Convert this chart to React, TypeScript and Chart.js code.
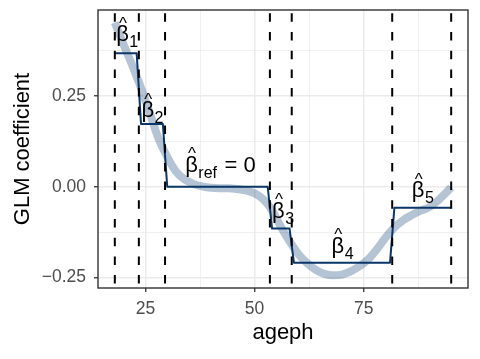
import React, { useEffect, useRef } from 'react';
import { Chart, registerables } from 'chart.js';

Chart.register(...registerables);

const FONT = "'Liberation Sans', Arial, Helvetica, sans-serif";

// bin breaks on ageph (dashed lines)
const breaks = [18, 23.5, 29.5, 53.5, 58.5, 81.5, 95];
// GLM coefficient per bin
const binCoefs = [0.368, 0.173, 0, -0.115, -0.209, -0.0575];

// smooth effect (thick light curve)
const smoothAge = [18, 20, 22, 24, 26, 28, 30, 32, 34, 36, 38, 40, 42, 44, 46, 48, 50, 52, 54, 56, 58, 60, 62, 64, 66, 68, 70, 72, 74, 76, 78, 80, 82, 84, 86, 88, 90, 92, 94, 95];
const smoothEffect = [0.452, 0.392, 0.334, 0.272, 0.203, 0.133, 0.082, 0.042, 0.02, 0.008, 0.001, -0.003, -0.004, -0.004, -0.006, -0.01, -0.018, -0.035, -0.065, -0.11, -0.15, -0.185, -0.21, -0.229, -0.24, -0.244, -0.242, -0.233, -0.219, -0.2, -0.172, -0.14, -0.112, -0.092, -0.078, -0.066, -0.056, -0.038, -0.014, -0.002];

// annotation labels (beta-hat)
const labelSubs = ['1', '2', 'ref', '3', '4', '5'];
const labelTails = ['', '', ' = 0', '', '', ''];
const labelAge = [18.3, 24.1, 34.1, 54.0, 67.6, 86.0];
const labelCoef = [0.401, 0.192, 0.041, -0.085, -0.182, -0.029];

// axis ticks
const xMajorTicks = [25, 50, 75];
const yMajorTicks = [-0.25, 0, 0.25];

const withMinor = (major: number[]) => {
  const step = major[1] - major[0];
  const out: number[] = [];
  for (let i = -1; i <= major.length; i++) {
    const v = major[0] + i * step;
    out.push(v - step / 2, v);
  }
  out.push(major[major.length - 1] + step * 1.5);
  return out;
};

const isMajor = (v: number, majors: number[]) => majors.some((m) => Math.abs(m - v) < 1e-9);

const fmtY = (v: number) => {
  if (Math.abs(v) < 1e-9) return '0.00';
  return v < 0 ? '\u2212' + Math.abs(v).toFixed(2) : v.toFixed(2);
};

// step points: evaluate each bin at integer ages
const stepPoints: { x: number; y: number }[] = [];
binCoefs.forEach((c, i) => {
  const a0 = Math.ceil(breaks[i]);
  const a1 = i === binCoefs.length - 1 ? breaks[i + 1] : Math.floor(breaks[i + 1]);
  stepPoints.push({ x: a0, y: c }, { x: a1, y: c });
});
const smoothPoints = smoothAge.map((a, i) => ({ x: a, y: smoothEffect[i] }));

const xLo = breaks[0];
const xHi = breaks[breaks.length - 1];
const xPad = (xHi - xLo) * 0.05;
const allY = [...smoothEffect, ...binCoefs];
const yLo = Math.min(...allY);
const yHi = Math.max(...allY);
const yPad = (yHi - yLo) * 0.05;

const zeroPad = (s: any) => {
  s.paddingLeft = 0;
  s.paddingRight = 0;
  s.paddingTop = 0;
  s.paddingBottom = 0;
};

const overlayPlugin = {
  id: 'overlay',
  afterDatasetsDraw(chart: any) {
    const { ctx, chartArea } = chart;
    const xs = chart.scales.x;
    const ys = chart.scales.y;
    ctx.save();
    // dashed vertical lines
    ctx.strokeStyle = '#000000';
    ctx.lineWidth = 2;
    ctx.setLineDash([8.5, 10.2]);
    ctx.lineDashOffset = 15.4;
    breaks.forEach((b) => {
      const px = xs.getPixelForValue(b);
      ctx.beginPath();
      ctx.moveTo(px, chartArea.top);
      ctx.lineTo(px, chartArea.bottom);
      ctx.stroke();
    });
    ctx.setLineDash([]);
    // labels
    ctx.fillStyle = '#000000';
    labelSubs.forEach((sub, i) => {
      const px = xs.getPixelForValue(labelAge[i]);
      const py = ys.getPixelForValue(labelCoef[i]);
      ctx.textBaseline = 'alphabetic';
      ctx.textAlign = 'left';
      ctx.font = `22px ${FONT}`;
      ctx.fillText('\u03B2', px, py);
      const bw = ctx.measureText('\u03B2').width;
      ctx.font = `17px ${FONT}`;
      ctx.textAlign = 'center';
      ctx.fillText('^', px + bw / 2 + 0.5, py - 12.5);
      ctx.textAlign = 'left';
      ctx.font = `16px ${FONT}`;
      ctx.fillText(sub, px + bw + 0.5, py + 6);
      const sw = ctx.measureText(sub).width;
      if (labelTails[i]) {
        ctx.font = `22px ${FONT}`;
        ctx.fillText(labelTails[i], px + bw + sw + 2, py);
      }
    });
    // panel border
    ctx.strokeStyle = '#333333';
    ctx.lineWidth = 1.4;
    ctx.strokeRect(chartArea.left, chartArea.top, chartArea.right - chartArea.left, chartArea.bottom - chartArea.top);
    ctx.restore();
  },
};

export default function App() {
  const ref = useRef<HTMLCanvasElement>(null);
  useEffect(() => {
    const canvas = ref.current;
    if (!canvas) return;
    const xTicks = withMinor(xMajorTicks);
    const yTicks = withMinor(yMajorTicks);
    const chart = new Chart(canvas, {
      type: 'line',
      data: {
        datasets: [
          {
            label: 'bins',
            data: stepPoints,
            borderColor: '#0A3668',
            borderWidth: 2,
            pointRadius: 0,
            tension: 0,
            borderJoinStyle: 'round',
            order: 0,
          },
          {
            label: 'smooth',
            data: smoothPoints,
            borderColor: 'rgba(12,64,121,0.31)',
            borderWidth: 8,
            pointRadius: 0,
            cubicInterpolationMode: 'monotone',
            order: 1,
          },
        ],
      },
      options: {
        animation: false,
        responsive: false,
        devicePixelRatio: 1,
        events: [],
        layout: { padding: { left: 0, right: 12, top: 10, bottom: 0 } },
        plugins: { legend: { display: false }, tooltip: { enabled: false } },
        scales: {
          x: {
            type: 'linear',
            position: 'bottom',
            min: xLo - xPad,
            max: xHi + xPad,
            afterBuildTicks: (s: any) => {
              s.ticks = xTicks.filter((v) => v >= s.min && v <= s.max).map((v) => ({ value: v }));
            },
            afterFit: (s: any) => {
              s.height = 71;
              zeroPad(s);
            },
            ticks: {
              autoSkip: false,
              maxRotation: 0,
              minRotation: 0,
              padding: 6.5,
              color: '#4D4D4D',
              font: { family: FONT, size: 17.5 },
              callback: (v: any) => (isMajor(Number(v), xMajorTicks) ? String(v) : ''),
            },
            grid: {
              color: '#EBEBEB',
              lineWidth: (c: any) => (c.tick && isMajor(c.tick.value, xMajorTicks) ? 1.5 : 0.75),
              tickLength: 4,
              tickWidth: 1.3,
              tickColor: (c: any) => (c.tick && isMajor(c.tick.value, xMajorTicks) ? '#333333' : 'rgba(0,0,0,0)'),
            },
            border: { display: false },
            title: {
              display: true,
              text: 'ageph',
              color: '#000000',
              font: { family: FONT, size: 22 },
              padding: { top: 0, bottom: 12.5 },
            },
          },
          y: {
            type: 'linear',
            min: yLo - yPad,
            max: yHi + yPad,
            afterBuildTicks: (s: any) => {
              s.ticks = yTicks.filter((v) => v >= s.min && v <= s.max).map((v) => ({ value: v }));
            },
            afterFit: (s: any) => {
              s.width = 98;
              zeroPad(s);
            },
            ticks: {
              autoSkip: false,
              padding: 8,
              color: '#4D4D4D',
              font: { family: FONT, size: 17.5 },
              callback: (v: any) => (isMajor(Number(v), yMajorTicks) ? fmtY(Number(v)) : ''),
            },
            grid: {
              color: '#EBEBEB',
              lineWidth: (c: any) => (c.tick && isMajor(c.tick.value, yMajorTicks) ? 1.5 : 0.75),
              tickLength: 4,
              tickWidth: 1.3,
              tickColor: (c: any) => (c.tick && isMajor(c.tick.value, yMajorTicks) ? '#333333' : 'rgba(0,0,0,0)'),
            },
            border: { display: false },
            title: {
              display: true,
              text: 'GLM coefficient',
              color: '#000000',
              font: { family: FONT, size: 22 },
              padding: { top: 10.2, bottom: 0 },
            },
          },
        },
      } as any,
      plugins: [overlayPlugin],
    });
    return () => chart.destroy();
  }, []);
  return (
    <div style={{ position: 'fixed', left: 0, top: 0, width: 480, height: 359, background: '#ffffff' }}>
      <canvas ref={ref} width={480} height={359} style={{ display: 'block', width: 480, height: 359 }} />
    </div>
  );
}
